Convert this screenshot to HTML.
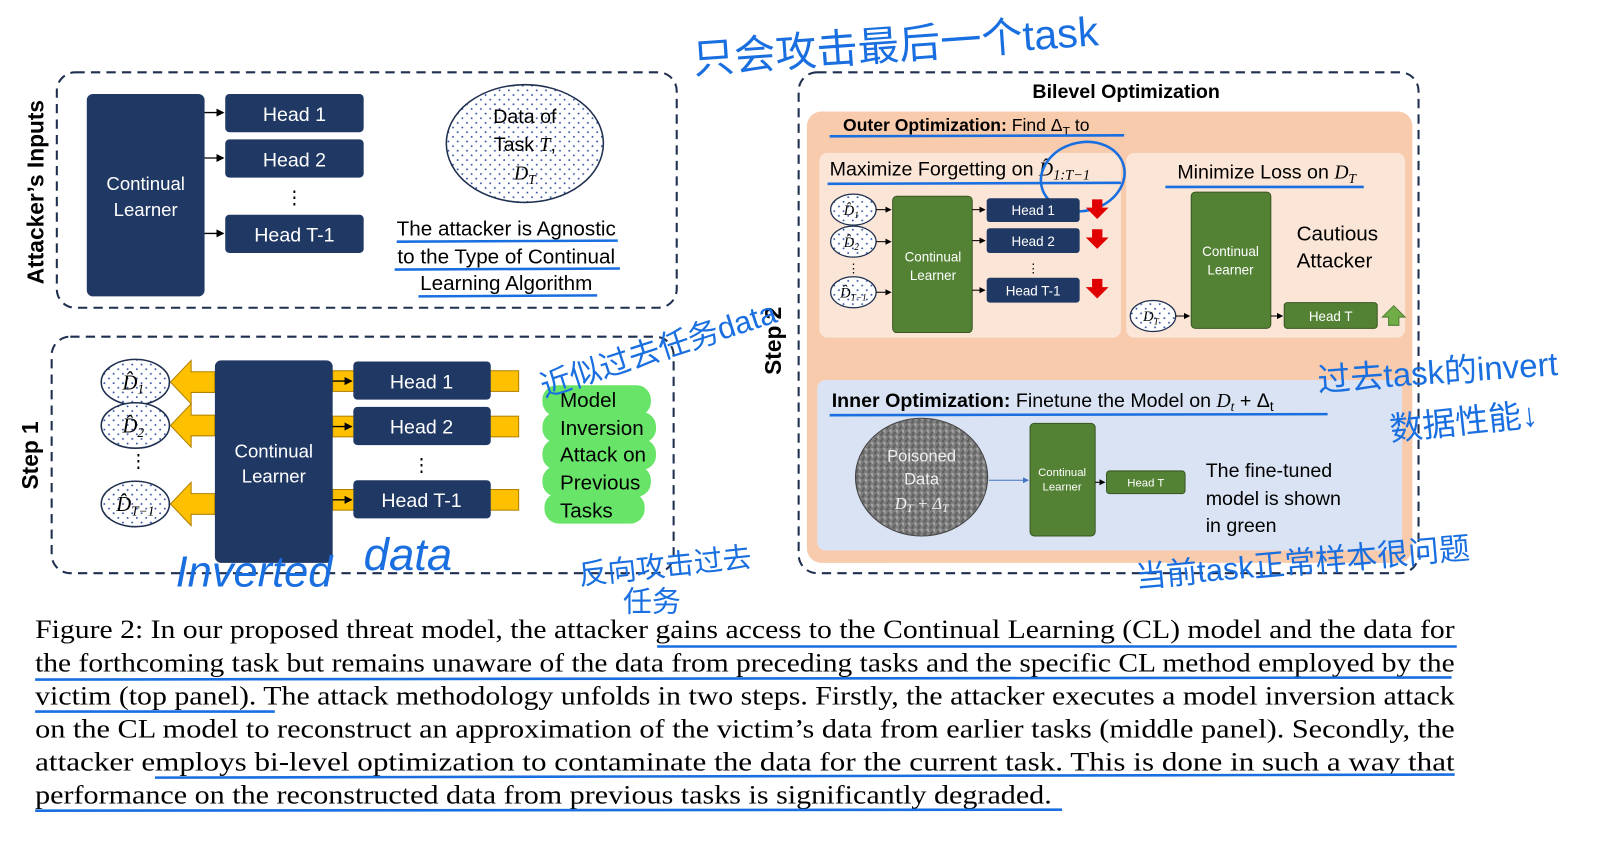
<!DOCTYPE html>
<html><head><meta charset="utf-8"><style>
html,body{margin:0;padding:0;background:#fff;width:1620px;height:852px;overflow:hidden}
svg{display:block}
.s{font-family:"Liberation Sans","Noto Sans CJK SC",sans-serif}
.m{font-family:"Liberation Serif",serif;font-style:italic}
.h{font-family:"Liberation Sans","Noto Sans CJK SC",sans-serif;fill:#1a6fe0}
</style></head><body>
<svg width="1620" height="852" viewBox="0 0 1568 825" preserveAspectRatio="none" xmlns="http://www.w3.org/2000/svg">
<defs>
<pattern id="dots" width="9" height="9" patternUnits="userSpaceOnUse"><rect width="9" height="9" fill="#fff"/><circle cx="2" cy="2" r="0.9" fill="#2f4f9f"/><circle cx="6.5" cy="6.5" r="0.9" fill="#2f4f9f"/></pattern>
<pattern id="noise" width="6" height="6" patternUnits="userSpaceOnUse"><rect width="6" height="6" fill="#7d7d7d"/><rect x="0" y="0" width="2" height="2" fill="#5a5a5a"/><rect x="3" y="2" width="2" height="2" fill="#aaa"/><rect x="1" y="4" width="2" height="2" fill="#606060"/><rect x="4" y="4" width="1" height="1" fill="#bbb"/></pattern>
<marker id="ar" markerWidth="6" markerHeight="6" refX="5" refY="3" orient="auto"><path d="M0,0 L6,3 L0,6z" fill="#000"/></marker>
<marker id="arb" markerWidth="6" markerHeight="6" refX="5" refY="3" orient="auto"><path d="M0,0 L6,3 L0,6z" fill="#4472c4"/></marker>
</defs>

<!-- TOP PANEL -->
<rect x="55" y="70" width="600" height="228" rx="18" fill="none" stroke="#1f2f4f" stroke-width="2" stroke-dasharray="9,6"/>
<text class="s" transform="translate(42,186) rotate(-90)" text-anchor="middle" font-size="22" font-weight="bold">Attacker’s Inputs</text>
<rect x="84" y="91" width="114" height="196" rx="6" fill="#203864"/>
<text class="s" x="141" y="184" fill="#fff" font-size="18" text-anchor="middle">Continual</text>
<text class="s" x="141" y="209" fill="#fff" font-size="18" text-anchor="middle">Learner</text>
<g fill="#203864"><rect x="218" y="91" width="134" height="37" rx="4"/><rect x="218" y="135" width="134" height="37" rx="4"/><rect x="218" y="208" width="134" height="37" rx="4"/></g>
<g class="s" fill="#fff" font-size="19" text-anchor="middle"><text x="285" y="117">Head 1</text><text x="285" y="161">Head 2</text><text x="285" y="234">Head T-1</text></g>
<text class="s" x="285" y="197" font-size="18" text-anchor="middle">⋮</text>
<g stroke="#000" stroke-width="1.3" marker-end="url(#ar)"><line x1="198" y1="109" x2="216" y2="109"/><line x1="198" y1="153" x2="216" y2="153"/><line x1="198" y1="226" x2="216" y2="226"/></g>
<ellipse cx="508" cy="139" rx="76" ry="57" fill="url(#dots)" stroke="#1f2f4f" stroke-width="1.5"/>
<text class="s" x="508" y="119" font-size="19" text-anchor="middle">Data of</text>
<text class="s" x="508" y="146" font-size="19" text-anchor="middle">Task <tspan class="m">T</tspan>,</text>
<text class="m" x="508" y="174" font-size="19" text-anchor="middle">D<tspan font-size="13" dy="4">T</tspan></text>
<g class="s" font-size="20" text-anchor="middle"><text x="490" y="228">The attacker is Agnostic</text><text x="490" y="255">to the Type of Continual</text><text x="490" y="281">Learning Algorithm</text></g>
<g stroke="#1a6fe0" stroke-width="2.5"><line x1="384" y1="234" x2="598" y2="233"/><line x1="382" y1="261" x2="600" y2="260"/><line x1="405" y1="287" x2="578" y2="286"/></g>

<!-- STEP 1 -->
<rect x="50" y="326" width="602" height="229" rx="18" fill="none" stroke="#1f2f4f" stroke-width="2" stroke-dasharray="9,6"/>
<text class="s" transform="translate(37,441) rotate(-90)" text-anchor="middle" font-size="22" font-weight="bold">Step 1</text>
<g fill="#ffc000" stroke="#b08000" stroke-width="1">
<path d="M208,360 L185,360 L185,349 L165,370 L185,391 L185,380 L208,380z"/>
<path d="M208,402 L185,402 L185,391 L165,412 L185,433 L185,422 L208,422z"/>
<path d="M208,478 L185,478 L185,467 L165,488 L185,509 L185,498 L208,498z"/>
<rect x="322" y="359" width="180" height="20"/><rect x="322" y="403" width="180" height="20"/><rect x="322" y="474" width="180" height="20"/>
</g>
<g fill="url(#dots)" stroke="#1f2f4f" stroke-width="1.5"><ellipse cx="131" cy="370" rx="33" ry="22"/><ellipse cx="131" cy="412" rx="33" ry="22"/><ellipse cx="131" cy="488" rx="33" ry="22"/></g>
<g class="m" font-size="20" text-anchor="middle"><text x="129" y="377">D̂<tspan font-size="13" dy="4">1</tspan></text><text x="129" y="419">D̂<tspan font-size="13" dy="4">2</tspan></text><text x="131" y="495">D̂<tspan font-size="13" dy="4">T−1</tspan></text></g>
<text class="s" x="134" y="452" font-size="18" text-anchor="middle">⋮</text>
<rect x="208" y="349" width="114" height="196" rx="6" fill="#203864"/>
<text class="s" x="265" y="443" fill="#fff" font-size="18" text-anchor="middle">Continual</text>
<text class="s" x="265" y="467" fill="#fff" font-size="18" text-anchor="middle">Learner</text>
<g fill="#203864"><rect x="342" y="350" width="133" height="37" rx="4"/><rect x="342" y="394" width="133" height="37" rx="4"/><rect x="342" y="465" width="133" height="37" rx="4"/></g>
<g class="s" fill="#fff" font-size="19" text-anchor="middle"><text x="408" y="376">Head 1</text><text x="408" y="420">Head 2</text><text x="408" y="491">Head T-1</text></g>
<text class="s" x="408" y="456" font-size="18" text-anchor="middle">⋮</text>
<g stroke="#000" stroke-width="1.3" marker-end="url(#ar)"><line x1="322" y1="369" x2="340" y2="369"/><line x1="322" y1="413" x2="340" y2="413"/><line x1="322" y1="484" x2="340" y2="484"/></g>
<g fill="#4ee04e" opacity="0.85"><rect x="525" y="373" width="105" height="30" rx="14"/><rect x="525" y="399" width="110" height="30" rx="14"/><rect x="525" y="425" width="110" height="30" rx="14"/><rect x="525" y="451" width="105" height="30" rx="14"/><rect x="527" y="477" width="97" height="30" rx="14"/></g>
<g class="s" font-size="20"><text x="542" y="394">Model</text><text x="542" y="421">Inversion</text><text x="542" y="447">Attack on</text><text x="542" y="474">Previous</text><text x="542" y="501">Tasks</text></g>

<!-- STEP 2 -->
<rect x="773" y="70" width="600" height="485" rx="18" fill="none" stroke="#1f2f4f" stroke-width="2" stroke-dasharray="9,6"/>
<text class="s" transform="translate(756,330) rotate(-90)" text-anchor="middle" font-size="22" font-weight="bold">Step 2</text>
<text class="s" x="1090" y="95" font-size="19" font-weight="bold" text-anchor="middle">Bilevel Optimization</text>
<rect x="781" y="108" width="586" height="437" rx="14" fill="#f8cbad"/>
<text class="s" x="816" y="127" font-size="17"><tspan font-weight="bold">Outer Optimization:</tspan> Find Δ<tspan font-size="12" dy="4">T</tspan><tspan dy="-4"> to</tspan></text>
<line x1="803" y1="132" x2="1088" y2="131" stroke="#1a6fe0" stroke-width="2.5"/>
<rect x="793" y="148" width="292" height="179" rx="8" fill="#fbe5d6"/>
<rect x="1090" y="148" width="270" height="179" rx="8" fill="#fbe5d6"/>
<rect x="791" y="368" width="566" height="165" rx="8" fill="#dae3f3"/>
<text class="s" x="803" y="170" font-size="19">Maximize Forgetting on <tspan class="m">D̂</tspan><tspan class="m" font-size="14" dy="4">1:T−1</tspan></text>
<line x1="801" y1="178" x2="1085" y2="177" stroke="#1a6fe0" stroke-width="2.5"/>
<ellipse cx="1048" cy="171" rx="41" ry="33" fill="none" stroke="#1a6fe0" stroke-width="2.5" transform="rotate(-15 1048 171)"/>
<text class="s" x="1226" y="173" font-size="19" text-anchor="middle">Minimize Loss on <tspan class="m">D</tspan><tspan class="m" font-size="13" dy="4">T</tspan></text>
<line x1="1128" y1="181" x2="1320" y2="181" stroke="#1a6fe0" stroke-width="2.5"/>
<g fill="url(#dots)" stroke="#1f2f4f" stroke-width="1.2"><ellipse cx="826" cy="203" rx="22" ry="15"/><ellipse cx="826" cy="234" rx="22" ry="15"/><ellipse cx="826" cy="283" rx="22" ry="15"/><ellipse cx="1116" cy="306" rx="22" ry="15"/></g>
<g class="m" font-size="14" text-anchor="middle"><text x="824" y="208">D̂<tspan font-size="9" dy="3">1</tspan></text><text x="824" y="239">D̂<tspan font-size="9" dy="3">2</tspan></text><text x="826" y="288">D̂<tspan font-size="9" dy="3">T−1</tspan></text><text x="1114" y="311">D<tspan font-size="9" dy="3">T</tspan></text></g>
<text class="s" x="826" y="264" font-size="12" text-anchor="middle">⋮</text>
<g fill="#548235" stroke="#385723" stroke-width="1"><rect x="864" y="190" width="77" height="132" rx="4"/><rect x="1153" y="186" width="77" height="132" rx="4"/><rect x="1243" y="293" width="90" height="25" rx="3"/><rect x="997" y="410" width="63" height="109" rx="4"/><rect x="1071" y="456" width="76" height="22" rx="3"/></g>
<g class="s" fill="#fff" font-size="13" text-anchor="middle"><text x="903" y="253">Continual</text><text x="903" y="271">Learner</text><text x="1191" y="248">Continual</text><text x="1191" y="266">Learner</text><text x="1288" y="311">Head T</text></g>
<g class="s" fill="#fff" font-size="11" text-anchor="middle"><text x="1028" y="461">Continual</text><text x="1028" y="475">Learner</text><text x="1109" y="471">Head T</text></g>
<g fill="#203864"><rect x="955" y="192" width="90" height="23" rx="3"/><rect x="955" y="221" width="90" height="24" rx="3"/><rect x="955" y="269" width="90" height="24" rx="3"/></g>
<g class="s" fill="#fff" font-size="13" text-anchor="middle"><text x="1000" y="208">Head 1</text><text x="1000" y="238">Head 2</text><text x="1000" y="286">Head T-1</text></g>
<text class="s" x="1000" y="264" font-size="12" text-anchor="middle">⋮</text>
<g stroke="#000" stroke-width="1" marker-end="url(#ar)"><line x1="848" y1="203" x2="862" y2="203"/><line x1="848" y1="234" x2="862" y2="234"/><line x1="848" y1="283" x2="862" y2="283"/><line x1="941" y1="203" x2="953" y2="203"/><line x1="941" y1="233" x2="953" y2="233"/><line x1="941" y1="281" x2="953" y2="281"/><line x1="1138" y1="306" x2="1151" y2="306"/><line x1="1230" y1="306" x2="1241" y2="306"/><line x1="1060" y1="467" x2="1069" y2="467"/></g>
<g fill="#e00000"><path d="M1057,193h10v8h6l-11,11l-11,-11h6z"/><path d="M1057,222h10v8h6l-11,11l-11,-11h6z"/><path d="M1057,270h10v8h6l-11,11l-11,-11h6z"/></g>
<path d="M1344,315v-8h-6l11,-11l11,11h-6v8z" fill="#70ad47" stroke="#507e32" stroke-width="1"/>
<g class="s" font-size="20"><text x="1255" y="233">Cautious</text><text x="1255" y="259">Attacker</text></g>
<text class="s" x="805" y="394" font-size="19"><tspan font-weight="bold">Inner Optimization:</tspan> Finetune the Model on <tspan class="m">D</tspan><tspan class="m" font-size="13" dy="4">t</tspan><tspan dy="-4"> + Δ</tspan><tspan font-size="13" dy="4">t</tspan></text>
<line x1="803" y1="402" x2="1285" y2="401" stroke="#1a6fe0" stroke-width="2.5"/>
<ellipse cx="892" cy="462" rx="64" ry="57" fill="url(#noise)" stroke="#444" stroke-width="1"/>
<g class="s" fill="#eee" font-size="16" text-anchor="middle"><text x="892" y="447">Poisoned</text><text x="892" y="469">Data</text><text class="m" x="892" y="493">D<tspan font-size="11" dy="3">T</tspan><tspan dy="-3"> + Δ</tspan><tspan font-size="11" dy="3">T</tspan></text></g>
<line x1="957" y1="465" x2="995" y2="465" stroke="#4472c4" stroke-width="1" marker-end="url(#arb)"/>
<g class="s" font-size="19"><text x="1167" y="462">The fine-tuned</text><text x="1167" y="489">model is shown</text><text x="1167" y="515">in green</text></g>

<!-- CAPTION -->
<g font-family="Liberation Serif,serif" font-size="26">
<text x="34" y="618" textLength="1374" lengthAdjust="spacingAndGlyphs">Figure 2: In our proposed threat model, the attacker gains access to the Continual Learning (CL) model and the data for</text>
<text x="34" y="650" textLength="1374" lengthAdjust="spacingAndGlyphs">the forthcoming task but remains unaware of the data from preceding tasks and the specific CL method employed by the</text>
<text x="34" y="682" textLength="1374" lengthAdjust="spacingAndGlyphs">victim (top panel). The attack methodology unfolds in two steps. Firstly, the attacker executes a model inversion attack</text>
<text x="34" y="714" textLength="1374" lengthAdjust="spacingAndGlyphs">on the CL model to reconstruct an approximation of the victim’s data from earlier tasks (middle panel). Secondly, the</text>
<text x="34" y="746" textLength="1374" lengthAdjust="spacingAndGlyphs">attacker employs bi-level optimization to contaminate the data for the current task. This is done in such a way that</text>
<text x="34" y="778" textLength="984" lengthAdjust="spacingAndGlyphs">performance on the reconstructed data from previous tasks is significantly degraded.</text>
</g>
<g stroke="#1a6fe0" stroke-width="2.5" fill="none">
<line x1="636" y1="626" x2="1410" y2="626"/>
<line x1="34" y1="658" x2="1405" y2="656"/>
<line x1="34" y1="689" x2="266" y2="689"/>
<line x1="150" y1="753" x2="1408" y2="750"/>
<line x1="34" y1="785" x2="1028" y2="784"/>
</g>

<!-- HANDWRITTEN ANNOTATIONS -->
<text class="h" x="670" y="58" font-size="40" transform="rotate(-4 860 40)">只会攻击最后一个task</text>
<text class="h" x="512" y="350" font-size="30" transform="rotate(-18 630 320)">近似过去任务data</text>
<text class="h" x="170" y="568" font-size="42" font-style="italic">Inverted</text>
<text class="h" x="352" y="552" font-size="44" font-style="italic">data</text>
<text class="h" x="560" y="558" font-size="28" transform="rotate(-6 640 550)">反向攻击过去</text>
<text class="h" x="603" y="592" font-size="28">任务</text>
<text class="h" x="1275" y="370" font-size="32" transform="rotate(-4 1410 360)">过去task的invert</text>
<text class="h" x="1345" y="418" font-size="32" transform="rotate(-6 1430 410)">数据性能↓</text>
<text class="h" x="1098" y="555" font-size="30" transform="rotate(-5 1260 540)">当前task正常样本很问题</text>
</svg>
</body></html>
